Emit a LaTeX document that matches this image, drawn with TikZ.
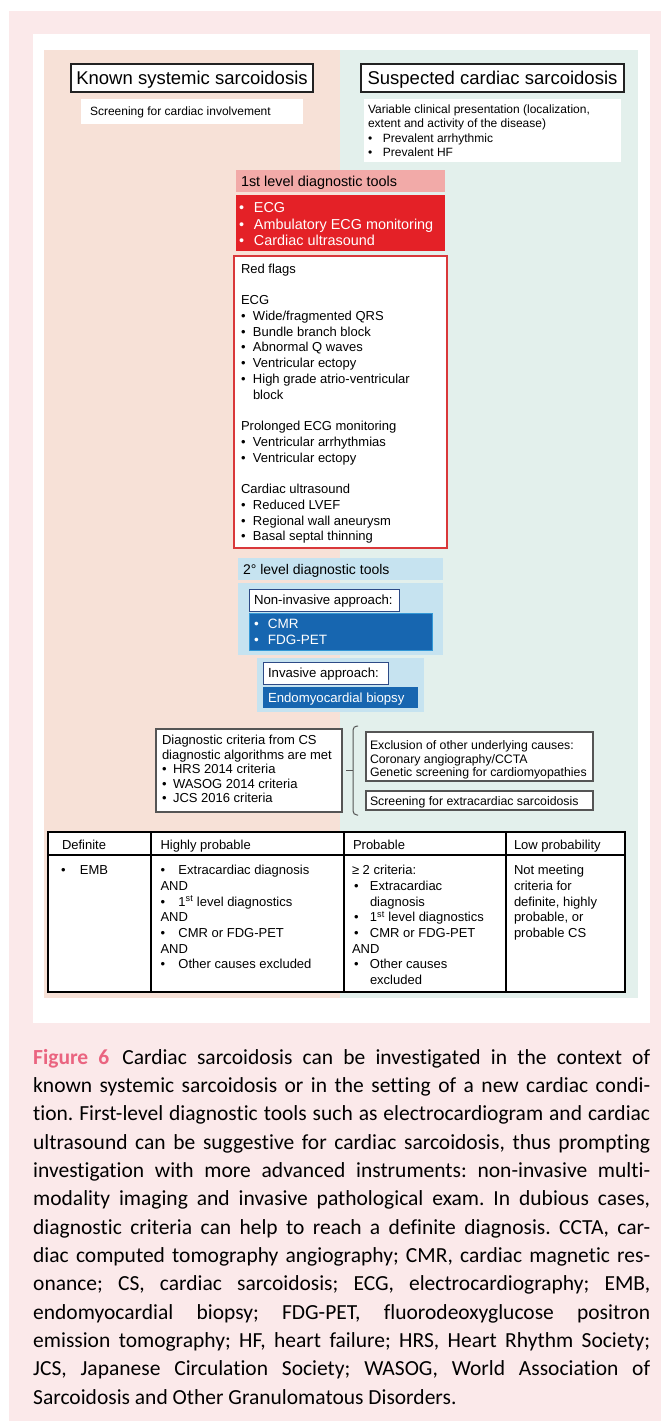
\documentclass[tikz,border=0pt]{standalone}
\usepackage{fontspec}
\setmainfont{Liberation Sans}
\newfontfamily\capfont[Ligatures={NoCommon}]{Carlito}
\definecolor{outerpink}{HTML}{FBE9EA}
\definecolor{salmon}{HTML}{F7E1D7}
\definecolor{mint}{HTML}{E3F0EC}
\definecolor{pinkhead}{HTML}{F2AAA8}
\definecolor{redbox}{HTML}{E42127}
\definecolor{redborder}{HTML}{D9383A}
\definecolor{lightblue}{HTML}{C6E3F0}
\definecolor{darkblue}{HTML}{1766B0}
\definecolor{cyanborder}{HTML}{3398D6}
\definecolor{navyborder}{HTML}{2D4A86}
\definecolor{figpink}{HTML}{EA6480}
\definecolor{boxgray}{HTML}{555555}
\definecolor{titleborder}{HTML}{222222}
\newcommand{\bu}[1]{\makebox[#1][l]{•}}
\newcommand{\fs}[2]{\fontsize{#1}{#2}\selectfont}
\begin{document}
\begin{tikzpicture}[x=1pt,y=-1pt,
  panel/.style={anchor=north west, inner sep=0pt, outer sep=0pt, rectangle},
  lbl/.style={anchor=base west, inner sep=0pt, outer sep=0pt},
  graybox/.style={panel, fill=white, draw=boxgray, line width=1.2pt},
  titlebox/.style={panel, fill=white, draw=titleborder, line width=1.8pt, minimum height=28pt},
  tabline/.style={black, line width=1.3pt}
]
\useasboundingbox (0,0) rectangle (667,1423);
\fill[white] (0,0) rectangle (667,1423);
\fill[outerpink] (9,11) rectangle (661,1421);
\fill[white] (33,34) rectangle (650,1023);
\fill[salmon] (44,50) rectangle (340,998);
\fill[mint] (340,50) rectangle (638,998);

% titles
\node[titlebox, minimum width=242pt] (known) at (71,64) {};
\node[anchor=base, inner sep=0pt] (knownt) at (192,84.8) {\fs{18.5}{20}Known systemic sarcoidosis};
\node[titlebox, minimum width=263pt] (susp) at (361,64) {};
\node[anchor=base, inner sep=0pt] (suspt) at (492.5,84.8) {\fs{18.5}{20}Suspected cardiac sarcoidosis};

\node[panel, fill=white, minimum width=222pt, minimum height=25pt] (screen) at (81,99) {};
\node[lbl] (screent) at (90,116) {\fs{12}{14}Screening for cardiac involvement};
\node[panel, fill=white, minimum width=257pt, minimum height=63pt] (var) at (364,99) {};
\node[lbl] (vart) at (368,113.5) {\parbox[t]{250pt}{\fs{12}{14.3}Variable clinical presentation (localization,\\extent and activity of the disease)\\\bu{15pt}Prevalent arrhythmic\\\bu{15pt}Prevalent HF}};

% first level
\node[panel, fill=pinkhead, minimum width=209pt, minimum height=22pt] (lvl1) at (236,170) {};
\node[lbl] (lvl1t) at (241,187) {\fs{14.4}{16}1st level diagnostic tools};
\node[panel, fill=redbox, minimum width=209pt, minimum height=56pt] (tools1) at (236,195) {};
\node[lbl, text=white] (tools1t) at (239,212.2) {\parbox[t]{205pt}{\fs{14.4}{16.85}\bu{15pt}ECG\\\bu{15pt}Ambulatory ECG monitoring\\\bu{15pt}Cardiac ultrasound}};

% red flags
\node[panel, fill=white, draw=redborder, line width=1.5pt, minimum width=213pt, minimum height=292pt] (flags) at (234,256) {};
\node[lbl] (flagst) at (241,273) {\parbox[t]{200pt}{\fs{13}{15.76}Red flags\\[15.76pt]ECG\\\bu{12pt}Wide/fragmented QRS\\\bu{12pt}Bundle branch block\\\bu{12pt}Abnormal Q waves\\\bu{12pt}Ventricular ectopy\\\bu{12pt}High grade atrio-ventricular\\\hspace*{12pt}block\\[15.76pt]Prolonged ECG monitoring\\\bu{12pt}Ventricular arrhythmias\\\bu{12pt}Ventricular ectopy\\[15.76pt]Cardiac ultrasound\\\bu{12pt}Reduced LVEF\\\bu{12pt}Regional wall aneurysm\\\bu{12pt}Basal septal thinning}};

% second level
\node[panel, fill=lightblue, minimum width=205pt, minimum height=22pt] (lvl2) at (238,558) {};
\node[lbl] (lvl2t) at (243,574) {\fs{14}{16}2° level diagnostic tools};
\node[panel, fill=lightblue, minimum width=205pt, minimum height=72pt] (noninvc) at (238,583) {};
\node[panel, fill=white, draw=navyborder, line width=1pt, minimum width=150pt, minimum height=22pt] (noninv) at (249,589) {};
\node[lbl] (noninvt) at (254,604.7) {\fs{13.2}{15}Non-invasive approach:};
\node[panel, fill=darkblue, draw=cyanborder, line width=0.8pt, minimum width=183pt, minimum height=37pt] (cmr) at (249,613) {};
\node[lbl, text=white] (cmrt) at (254,628) {\parbox[t]{170pt}{\fs{13.5}{16}\bu{14pt}CMR\\\bu{14pt}FDG-PET}};
\node[panel, fill=lightblue, minimum width=167pt, minimum height=54pt] (invc) at (257,658) {};
\node[panel, fill=white, draw=navyborder, line width=1pt, minimum width=125pt, minimum height=22pt] (inv) at (263,662) {};
\node[lbl] (invt) at (268,677.7) {\fs{13.2}{15}Invasive approach:};
\node[panel, fill=darkblue, minimum width=155pt, minimum height=21pt] (emb) at (263,687) {};
\node[lbl, text=white] (embt) at (268,702) {\fs{13.2}{15}Endomyocardial biopsy};

% criteria
\node[graybox, minimum width=186pt, minimum height=83pt] (crit) at (156,729) {};
\node[lbl] (critt) at (162,744.7) {\parbox[t]{178pt}{\fs{13}{14.5}Diagnostic criteria from CS\\diagnostic algorithms are met\\\bu{11pt}HRS 2014 criteria\\\bu{11pt}WASOG 2014 criteria\\\bu{11pt}JCS 2016 criteria}};
\node[graybox, minimum width=227pt, minimum height=49pt] (excl) at (366,732) {};
\node[lbl] (exclt) at (370,749.4) {\parbox[t]{220pt}{\fs{12.3}{13.6}Exclusion of other underlying causes:\\Coronary angiography/CCTA\\Genetic screening for cardiomyopathies}};
\node[graybox, minimum width=227pt, minimum height=19pt] (extra) at (366,791) {};
\node[lbl] (extrat) at (370,805) {\fs{12.3}{14}Screening for extracardiac sarcoidosis};

% brace
\coordinate (bt) at (358,726);
\coordinate (bb) at (358,815);
\coordinate (bm) at (353,770.5);
\draw[boxgray, line width=1pt, rounded corners=4pt] (bt) -- (353,726) -- (353,815) -- (bb);
\draw[boxgray, line width=1pt] (346,770.5) -- (bm);

% table
\node[panel, fill=white, draw=black, line width=1.3pt, minimum width=577pt, minimum height=160pt] (tab) at (48,832) {};
\draw[tabline] (48,855) -- (625,855);
\draw[tabline] (151,832) -- (151,992);
\draw[tabline] (344,832) -- (344,992);
\draw[tabline] (506,832) -- (506,992);
\node[lbl] (h1) at (62,849.7) {\fs{13}{15}Definite};
\node[lbl] (h2) at (160.5,849.7) {\fs{13}{15}Highly probable};
\node[lbl] (h3) at (353,849.7) {\fs{13}{15}Probable};
\node[lbl] (h4) at (514,849.7) {\fs{13}{15}Low probability};
\node[lbl] (c1) at (61,874.7) {\fs{13}{15}\bu{19pt}EMB};
\node[lbl] (c2) at (160.5,874.7) {\parbox[t]{180pt}{\fs{13}{15.7}\bu{18pt}Extracardiac diagnosis\\AND\\\bu{18pt}1\textsuperscript{st} level diagnostics\\AND\\\bu{18pt}CMR or FDG-PET\\AND\\\bu{18pt}Other causes excluded}};
\node[lbl] (c3) at (352,874.7) {\parbox[t]{150pt}{\fs{13}{15.7}≥ 2 criteria:\\\hspace*{2pt}\bu{16pt}Extracardiac\\\hspace*{18pt}diagnosis\\\hspace*{2pt}\bu{16pt}1\textsuperscript{st} level diagnostics\\\hspace*{2pt}\bu{16pt}CMR or FDG-PET\\AND\\\hspace*{2pt}\bu{16pt}Other causes\\\hspace*{18pt}excluded}};
\node[lbl] (c4) at (514,874.7) {\parbox[t]{110pt}{\fs{13}{15.7}Not meeting\\criteria for\\definite, highly\\probable, or\\probable CS}};

% caption
\node[anchor=base west, inner sep=0pt] (cap) at (33,1049) {\parbox[t]{617pt}{\capfont\fs{21.5}{28.35}\frenchspacing\tolerance=10000 \hyphenpenalty=10000 \exhyphenpenalty=10000 {\bfseries\color{figpink}Figure 6}\hspace{0.6em}Cardiac sarcoidosis can be investigated in the context of\linebreak known systemic sarcoidosis or in the setting of a new cardiac condi-\linebreak tion. First-level diagnostic tools such as electrocardiogram and cardiac\linebreak ultrasound can be suggestive for cardiac sarcoidosis, thus prompting\linebreak investigation with more advanced instruments: non-invasive multi-\linebreak modality imaging and invasive pathological exam. In dubious cases,\linebreak diagnostic criteria can help to reach a definite diagnosis. CCTA, car-\linebreak diac computed tomography angiography; CMR, cardiac magnetic res-\linebreak onance; CS, cardiac sarcoidosis; ECG, electrocardiography; EMB,\linebreak endomyocardial biopsy; FDG-PET, fluorodeoxyglucose positron\linebreak emission tomography; HF, heart failure; HRS, Heart Rhythm Society;\linebreak JCS, Japanese Circulation Society; WASOG, World Association of\linebreak Sarcoidosis and Other Granulomatous Disorders.}};
\end{tikzpicture}
\end{document}
